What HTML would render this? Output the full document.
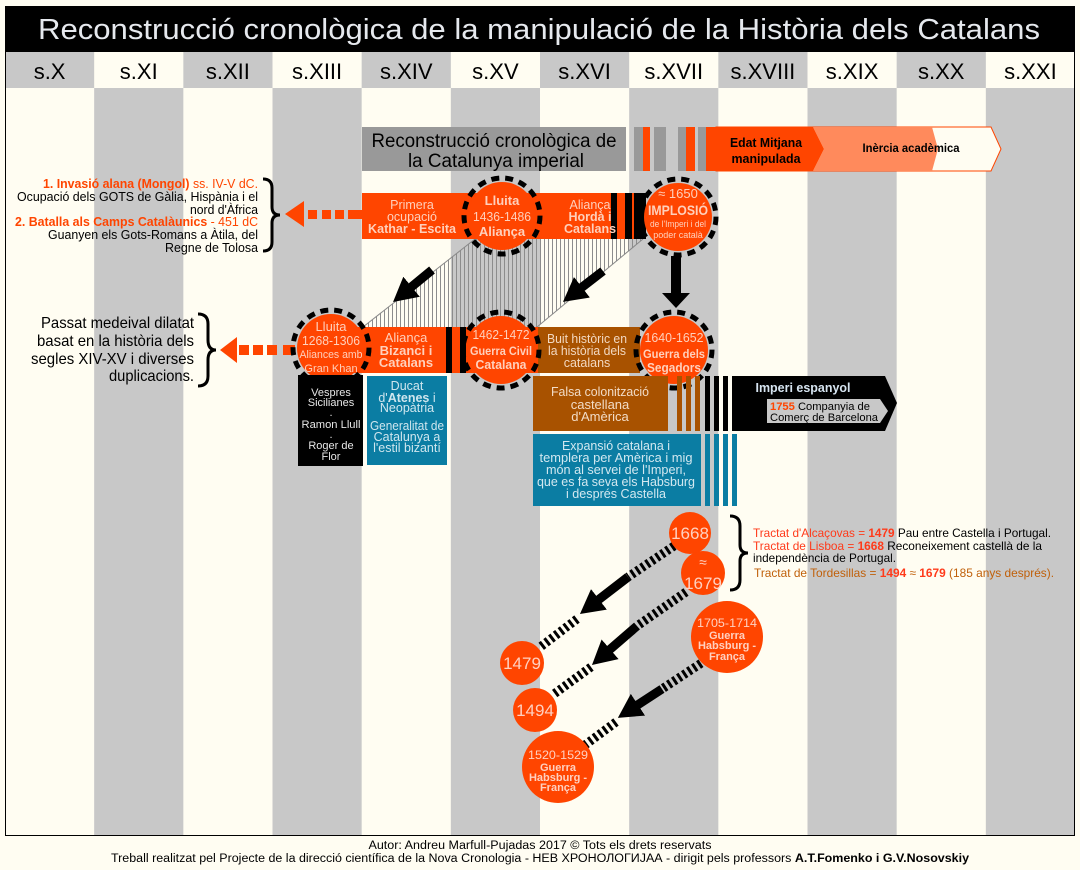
<!DOCTYPE html>
<html><head><meta charset="utf-8"><style>
html,body{margin:0;padding:0;background:#fffdf2;}
svg{display:block;font-family:"Liberation Sans",Arial,sans-serif;}
</style></head><body>
<svg width="1080" height="870" viewBox="0 0 1080 870" xmlns="http://www.w3.org/2000/svg">
<defs>
<pattern id="hatch" width="4" height="4" patternUnits="userSpaceOnUse"><rect x="0" y="0" width="1" height="4" fill="#8c8c8c"/></pattern>
<marker id="ah" markerUnits="userSpaceOnUse" markerWidth="24" markerHeight="26" viewBox="0 0 24 26" refX="4" refY="13" orient="auto"><path d="M0,0 L24,13 L0,26 z" fill="#000"/></marker>
</defs>
<rect width="1080" height="870" fill="#fffdf2"/>
<!-- lower columns -->
<g fill="#c8c8c8">
<rect x="94.17" y="88" width="89.17" height="747"/>
<rect x="272.5" y="88" width="89.17" height="747"/>
<rect x="450.83" y="88" width="89.17" height="747"/>
<rect x="629.17" y="88" width="89.17" height="747"/>
<rect x="807.5" y="88" width="89.17" height="747"/>
<rect x="985.83" y="88" width="89.17" height="747"/>
<!-- header -->
<rect x="5" y="52" width="89.17" height="36"/>
<rect x="183.33" y="52" width="89.17" height="36"/>
<rect x="361.67" y="52" width="89.17" height="36"/>
<rect x="540" y="52" width="89.17" height="36"/>
<rect x="718.33" y="52" width="89.17" height="36"/>
<rect x="896.67" y="52" width="89.17" height="36"/>
</g>
<rect x="5" y="6" width="1070" height="46" fill="#000"/>
<text x="38" y="39" font-size="29" fill="#e6e9ee" textLength="1002" lengthAdjust="spacingAndGlyphs">Reconstrucció cronològica de la manipulació de la Història dels Catalans</text>
<g font-size="22" fill="#000" text-anchor="middle">
<text x="49.6" y="79">s.X</text><text x="138.75" y="79">s.XI</text><text x="227.9" y="79">s.XII</text><text x="317.1" y="79">s.XIII</text><text x="406.25" y="79">s.XIV</text><text x="495.4" y="79">s.XV</text><text x="584.6" y="79">s.XVI</text><text x="673.75" y="79">s.XVII</text><text x="762.9" y="79">s.XVIII</text><text x="852.1" y="79">s.XIX</text><text x="941.25" y="79">s.XX</text><text x="1030.4" y="79">s.XXI</text>
</g>
<rect x="5.5" y="6.5" width="1069" height="829" fill="none" stroke="#000" stroke-width="1"/>

<!-- Row 1 -->
<rect x="362" y="127" width="264" height="44" fill="#999"/>
<text x="494" y="147" font-size="19.5" text-anchor="middle" fill="#000" textLength="245" lengthAdjust="spacingAndGlyphs">Reconstrucció cronològica de</text>
<text x="496" y="167" font-size="19.5" text-anchor="middle" fill="#000" textLength="176" lengthAdjust="spacingAndGlyphs">la Catalunya imperial</text>
<g>
<rect x="634" y="127" width="9" height="44" fill="#999"/>
<rect x="643" y="127" width="7" height="44" fill="#ff4500"/>
<rect x="654" y="127" width="12" height="44" fill="#999"/>
<rect x="678" y="127" width="8" height="44" fill="#999"/>
<rect x="686" y="127" width="9" height="44" fill="#ff4500"/>
<rect x="698" y="127" width="8" height="44" fill="#999"/>
<rect x="706" y="127" width="10" height="44" fill="#ff4500"/>
</g>
<polygon points="716,127 991,127 1001,149 991,171 716,171" fill="#fffdf2" stroke="#ff4500" stroke-width="1"/>
<polygon points="813,127 932,127 938,149 932,171 813,171 824,149" fill="#ff8a5c"/>
<polygon points="716,127 813,127 824,149 813,171 716,171" fill="#ff4500"/>
<text x="766" y="147" font-size="12.5" font-weight="bold" text-anchor="middle" fill="#000" textLength="72" lengthAdjust="spacingAndGlyphs">Edat Mitjana</text>
<text x="766" y="163" font-size="12.5" font-weight="bold" text-anchor="middle" fill="#000" textLength="69" lengthAdjust="spacingAndGlyphs">manipulada</text>
<text x="911" y="152" font-size="11.5" font-weight="bold" text-anchor="middle" fill="#000" textLength="97" lengthAdjust="spacingAndGlyphs">Inèrcia acadèmica</text>

<!-- hatch -->
<polygon points="475,239 643,239 537,327 363,327" fill="url(#hatch)"/>
<line x1="363" y1="327" x2="475" y2="239" stroke="#888" stroke-width="1"/>
<line x1="537" y1="327" x2="643" y2="239" stroke="#888" stroke-width="1"/>

<!-- Row 2 -->
<rect x="362" y="193" width="284" height="46" fill="#ff4500"/>
<rect x="611" y="193" width="6" height="46" fill="#000"/>
<rect x="625" y="193" width="7" height="46" fill="#000"/>
<rect x="634" y="193" width="12" height="46" fill="#000"/>
<polygon points="285,214 304,201 304,227" fill="#ff4500"/>
<rect x="308" y="210" width="9" height="9" fill="#ff4500"/>
<rect x="322" y="210" width="9" height="9" fill="#ff4500"/>
<rect x="335" y="210" width="9" height="9" fill="#ff4500"/>
<rect x="348" y="210" width="14" height="9" fill="#ff4500"/>
<g fill="#ffd0bc" text-anchor="middle" font-size="12.5">
<text x="412" y="209">Primera</text>
<text x="412" y="221">ocupació</text>
<text x="412" y="233" font-weight="bold" textLength="88" lengthAdjust="spacingAndGlyphs">Kathar - Escita</text>
<text x="590" y="209">Aliança</text>
<text x="590" y="221" font-weight="bold">Hordà i</text>
<text x="590" y="233" font-weight="bold">Catalans</text>
</g>
<circle cx="502" cy="216" r="34" fill="#ff4500"/>
<circle cx="502" cy="216" r="38" fill="none" stroke="#000" stroke-width="5" stroke-dasharray="8 6"/>
<g fill="#ffd0bc" text-anchor="middle">
<text x="502" y="205" font-size="13" font-weight="bold">Lluita</text>
<text x="502" y="221" font-size="13" textLength="58" lengthAdjust="spacingAndGlyphs">1436-1486</text>
<text x="502" y="236" font-size="13" font-weight="bold">Aliança</text>
</g>
<circle cx="678" cy="217" r="34" fill="#ff4500"/>
<circle cx="678" cy="217" r="38" fill="none" stroke="#000" stroke-width="5" stroke-dasharray="8 6"/>
<g fill="#ffd0bc" text-anchor="middle">
<text x="678" y="198" font-size="13">≈ 1650</text>
<text x="678" y="215" font-size="14" font-weight="bold" textLength="60" lengthAdjust="spacingAndGlyphs">IMPLOSIÓ</text>
<text x="678" y="227" font-size="9" textLength="56" lengthAdjust="spacingAndGlyphs">de l'Imperi i del</text>
<text x="678" y="238" font-size="9">poder català</text>
</g>

<!-- left text row 2 -->
<g font-size="12.5" text-anchor="end">
<text x="258" y="188" fill="#ff4500" textLength="215" lengthAdjust="spacingAndGlyphs"><tspan font-weight="bold">1. Invasió alana (Mongol)</tspan> ss. IV-V dC.</text>
<text x="258" y="201" fill="#000" textLength="241" lengthAdjust="spacingAndGlyphs">Ocupació dels GOTS de Gàlia, Hispània i el</text>
<text x="258" y="214" fill="#000" textLength="68" lengthAdjust="spacingAndGlyphs">nord d'Àfrica</text>
<text x="258" y="226" fill="#ff4500" textLength="243" lengthAdjust="spacingAndGlyphs"><tspan font-weight="bold">2. Batalla als Camps Catalàunics</tspan> - 451 dC</text>
<text x="258" y="239" fill="#000" textLength="210" lengthAdjust="spacingAndGlyphs">Guanyen els Gots-Romans a Àtila, del</text>
<text x="258" y="252" fill="#000" textLength="93" lengthAdjust="spacingAndGlyphs">Regne de Tolosa</text>
</g>
<path d="M263,179 Q272,179 272,188 L272,207 Q272,215 280,215 Q272,215 272,223 L272,242 Q272,251 263,251" fill="none" stroke="#000" stroke-width="3"/>

<!-- arrows row2 -> row3 -->
<line x1="432" y1="270" x2="408.5" y2="289.3" stroke="#000" stroke-width="9" marker-end="url(#ah)"/>
<line x1="603" y1="271" x2="578.8" y2="289.7" stroke="#000" stroke-width="9" marker-end="url(#ah)"/>
<rect x="671" y="256" width="10" height="38" fill="#000"/>
<polygon points="662,293 690,293 676,308" fill="#000"/>

<!-- Row 3 -->
<rect x="330" y="327" width="210" height="46" fill="#ff4500"/>
<rect x="446" y="327" width="6" height="46" fill="#000"/>
<rect x="460" y="327" width="6" height="46" fill="#000"/>
<rect x="538" y="327" width="102" height="46" fill="#a85200"/>
<polygon points="220,350 237,337 237,363" fill="#ff4500"/>
<rect x="239" y="345" width="10" height="10" fill="#ff4500"/>
<rect x="253" y="345" width="10" height="10" fill="#ff4500"/>
<rect x="267" y="345" width="10" height="10" fill="#ff4500"/>
<rect x="283" y="345" width="12" height="10" fill="#ff4500"/>
<g fill="#ffd0bc" text-anchor="middle">
<text x="406" y="342" font-size="13">Aliança</text>
<text x="406" y="355" font-size="13" font-weight="bold">Bizanci i</text>
<text x="406" y="367" font-size="13" font-weight="bold">Catalans</text>
</g>
<g fill="#f2d8c0" text-anchor="middle" font-size="12.5">
<text x="587" y="343" textLength="80" lengthAdjust="spacingAndGlyphs">Buit històric en</text>
<text x="587" y="355" textLength="78" lengthAdjust="spacingAndGlyphs">la història dels</text>
<text x="587" y="367">catalans</text>
</g>
<circle cx="331" cy="348" r="34" fill="#ff4500"/>
<circle cx="331" cy="348" r="38" fill="none" stroke="#000" stroke-width="5" stroke-dasharray="8 6"/>
<g fill="#ffd0bc" text-anchor="middle">
<text x="331" y="331" font-size="13">Lluita</text>
<text x="331" y="345" font-size="13" textLength="58" lengthAdjust="spacingAndGlyphs">1268-1306</text>
<text x="331" y="358" font-size="11" textLength="63" lengthAdjust="spacingAndGlyphs">Aliances amb</text>
<text x="331" y="372" font-size="11">Gran Khan</text>
</g>
<circle cx="501" cy="350" r="34" fill="#ff4500"/>
<circle cx="501" cy="350" r="38" fill="none" stroke="#000" stroke-width="5" stroke-dasharray="8 6"/>
<g fill="#ffd0bc" text-anchor="middle">
<text x="501" y="339" font-size="13" textLength="57" lengthAdjust="spacingAndGlyphs">1462-1472</text>
<text x="501" y="355" font-size="12" font-weight="bold" textLength="62" lengthAdjust="spacingAndGlyphs">Guerra Civil</text>
<text x="501" y="369" font-size="13" font-weight="bold" textLength="51" lengthAdjust="spacingAndGlyphs">Catalana</text>
</g>
<circle cx="674" cy="350" r="34" fill="#ff4500"/>
<circle cx="674" cy="350" r="38" fill="none" stroke="#000" stroke-width="5" stroke-dasharray="8 6"/>
<g fill="#ffd0bc" text-anchor="middle">
<text x="674" y="342" font-size="13" textLength="59" lengthAdjust="spacingAndGlyphs">1640-1652</text>
<text x="674" y="358" font-size="12" font-weight="bold" textLength="62" lengthAdjust="spacingAndGlyphs">Guerra dels</text>
<text x="674" y="372" font-size="13" font-weight="bold" textLength="54" lengthAdjust="spacingAndGlyphs">Segadors</text>
</g>

<!-- left text row 3 -->
<g font-size="16" text-anchor="end" fill="#000">
<text x="194" y="328" textLength="153" lengthAdjust="spacingAndGlyphs">Passat medeival dilatat</text>
<text x="194" y="346" textLength="157" lengthAdjust="spacingAndGlyphs">basat en la història dels</text>
<text x="194" y="364" textLength="163" lengthAdjust="spacingAndGlyphs">segles XIV-XV i diverses</text>
<text x="194" y="381" textLength="85" lengthAdjust="spacingAndGlyphs">duplicacions.</text>
</g>
<path d="M198,314 Q208,314 208,324 L208,340 Q208,350 216,350 Q208,350 208,360 L208,376 Q208,386 198,386" fill="none" stroke="#000" stroke-width="3"/>

<!-- black box -->
<rect x="298" y="375" width="65" height="91" fill="#000"/>
<g fill="#e6e6e6" text-anchor="middle" font-size="11">
<text x="331" y="396">Vespres</text>
<text x="331" y="406">Sicilianes</text>
<text x="331" y="416">.</text>
<text x="331" y="428" textLength="59" lengthAdjust="spacingAndGlyphs">Ramon Llull</text>
<text x="331" y="438">.</text>
<text x="331" y="449">Roger de</text>
<text x="331" y="460">Flor</text>
</g>
<!-- blue box 1 -->
<rect x="367" y="376" width="80" height="89" fill="#0b7da3"/>
<g fill="#cfe6ee" text-anchor="middle" font-size="12.5">
<text x="407" y="390">Ducat</text>
<text x="407" y="402">d'<tspan font-weight="bold">Atenes</tspan> i</text>
<text x="407" y="412">Neopàtria</text>
<text x="407" y="430" textLength="74" lengthAdjust="spacingAndGlyphs">Generalitat de</text>
<text x="407" y="441">Catalunya a</text>
<text x="407" y="452">l'estil bizantí</text>
</g>
<!-- brown box -->
<rect x="533" y="376" width="135" height="55" fill="#a85200"/>
<g fill="#f2dcc6" text-anchor="middle" font-size="13">
<text x="600" y="396" textLength="98" lengthAdjust="spacingAndGlyphs">Falsa colonització</text>
<text x="600" y="409">castellana</text>
<text x="600" y="421">d'Amèrica</text>
</g>
<g>
<rect x="677" y="376" width="5" height="55" fill="#a85200"/>
<rect x="686" y="376" width="5" height="55" fill="#a85200"/>
<rect x="695" y="376" width="5" height="55" fill="#a85200"/>
<rect x="705" y="376" width="5" height="55" fill="#000"/>
<rect x="714" y="376" width="5" height="55" fill="#000"/>
<rect x="723" y="376" width="5" height="55" fill="#000"/>
</g>
<polygon points="732,376 885,376 897,403 885,431 732,431" fill="#000"/>
<text x="803" y="392" font-size="13" font-weight="bold" fill="#d6e4f0" text-anchor="middle" textLength="95" lengthAdjust="spacingAndGlyphs">Imperi espanyol</text>
<polygon points="767,399 880,399 888,411 880,423 767,423" fill="#c8c8c8"/>
<text x="770" y="410" font-size="11" fill="#000" textLength="100" lengthAdjust="spacingAndGlyphs"><tspan fill="#ff4500" font-weight="bold">1755</tspan> Companyia de</text>
<text x="770" y="421" font-size="11" fill="#000" textLength="108" lengthAdjust="spacingAndGlyphs">Comerç de Barcelona</text>
<!-- blue box 2 -->
<rect x="533" y="434" width="168" height="72" fill="#0b7da3"/>
<g>
<rect x="705" y="434" width="5" height="72" fill="#0b7da3"/>
<rect x="714" y="434" width="5" height="72" fill="#0b7da3"/>
<rect x="723" y="434" width="5" height="72" fill="#0b7da3"/>
<rect x="732" y="434" width="5" height="72" fill="#0b7da3"/>
</g>
<g fill="#d2e8f0" text-anchor="middle" font-size="12.5">
<text x="616" y="450" textLength="108" lengthAdjust="spacingAndGlyphs">Expansió catalana i</text>
<text x="616" y="462" textLength="153" lengthAdjust="spacingAndGlyphs">templera per Amèrica i mig</text>
<text x="616" y="474" textLength="140" lengthAdjust="spacingAndGlyphs">món al servei de l'Imperi,</text>
<text x="616" y="486" textLength="158" lengthAdjust="spacingAndGlyphs">que es fa seva els Habsburg</text>
<text x="616" y="498" textLength="100" lengthAdjust="spacingAndGlyphs">i després Castella</text>
</g>

<!-- bottom arrows -->
<g stroke="#000" stroke-width="9" fill="none">
<line x1="674" y1="546" x2="628" y2="577" stroke-dasharray="3 3"/>
<line x1="628" y1="577" x2="595.8" y2="601.8" marker-end="url(#ah)"/>
<line x1="577" y1="619" x2="539" y2="648" stroke-dasharray="3 3"/>
<line x1="686" y1="592" x2="637" y2="626" stroke-dasharray="3 3"/>
<line x1="637" y1="626" x2="607.1" y2="651.9" marker-end="url(#ah)"/>
<line x1="591" y1="667" x2="554" y2="694" stroke-dasharray="3 3"/>
<line x1="706" y1="660" x2="662" y2="689" stroke-dasharray="3 3"/>
<line x1="662" y1="689" x2="634.6" y2="706.9" marker-end="url(#ah)"/>
<line x1="616" y1="722" x2="585" y2="745" stroke-dasharray="3 3"/>
</g>

<!-- bottom circles -->
<g fill="#ff4500">
<circle cx="690" cy="533" r="21"/>
<circle cx="703" cy="573" r="22"/>
<circle cx="522" cy="663" r="22"/>
<circle cx="535" cy="710" r="22"/>
<circle cx="727" cy="637" r="36"/>
<circle cx="558" cy="767" r="36"/>
</g>
<g fill="#ffd0c0" text-anchor="middle">
<text x="690" y="539" font-size="17">1668</text>
<text x="703" y="567" font-size="14">≈</text>
<text x="703" y="589" font-size="17">1679</text>
<text x="522" y="669" font-size="17">1479</text>
<text x="535" y="716" font-size="17">1494</text>
<text x="727" y="627" font-size="12" textLength="60" lengthAdjust="spacingAndGlyphs">1705-1714</text>
<text x="727" y="639" font-size="11" font-weight="bold">Guerra</text>
<text x="727" y="649" font-size="11" font-weight="bold">Habsburg -</text>
<text x="727" y="660" font-size="11" font-weight="bold">França</text>
<text x="558" y="759" font-size="12" textLength="60" lengthAdjust="spacingAndGlyphs">1520-1529</text>
<text x="558" y="771" font-size="11" font-weight="bold">Guerra</text>
<text x="558" y="781" font-size="11" font-weight="bold">Habsburg -</text>
<text x="558" y="791" font-size="11" font-weight="bold">França</text>
</g>

<!-- right text -->
<path d="M730,516 Q740,516 740,526 L740,545 Q740,553 748,553 Q740,553 740,561 L740,580 Q740,590 730,590" fill="none" stroke="#000" stroke-width="3"/>
<g font-size="12">
<text x="753" y="537" textLength="298" lengthAdjust="spacingAndGlyphs"><tspan fill="#ff3a1a">Tractat d'Alcaçovas = </tspan><tspan fill="#ff3a1a" font-weight="bold">1479</tspan><tspan fill="#000"> Pau entre Castella i Portugal.</tspan></text>
<text x="753" y="550" textLength="289" lengthAdjust="spacingAndGlyphs"><tspan fill="#ff3a1a">Tractat de Lisboa = </tspan><tspan fill="#ff3a1a" font-weight="bold">1668</tspan><tspan fill="#000"> Reconeixement castellà de la</tspan></text>
<text x="753" y="562" fill="#000" textLength="143" lengthAdjust="spacingAndGlyphs">independència de Portugal.</text>
<text x="754" y="577" textLength="300" lengthAdjust="spacingAndGlyphs"><tspan fill="#c0600a">Tractat de Tordesillas = </tspan><tspan fill="#ff3a1a" font-weight="bold">1494</tspan><tspan fill="#c0600a"> ≈ </tspan><tspan fill="#ff3a1a" font-weight="bold">1679</tspan><tspan fill="#c0600a"> (185 anys després).</tspan></text>
</g>

<!-- footer -->
<g font-size="11.5" fill="#000" text-anchor="middle">
<text x="540" y="849" textLength="343" lengthAdjust="spacingAndGlyphs">Autor: Andreu Marfull-Pujadas 2017 © Tots els drets reservats</text>
<text x="540" y="862" textLength="858" lengthAdjust="spacingAndGlyphs">Treball realitzat pel Projecte de la direcció científica de la Nova Cronologia - НЕВ ХРОНОЛОГИЈАА - dirigit pels professors <tspan font-weight="bold">A.T.Fomenko i G.V.Nosovskiy</tspan></text>
</g>
</svg>
</body></html>
